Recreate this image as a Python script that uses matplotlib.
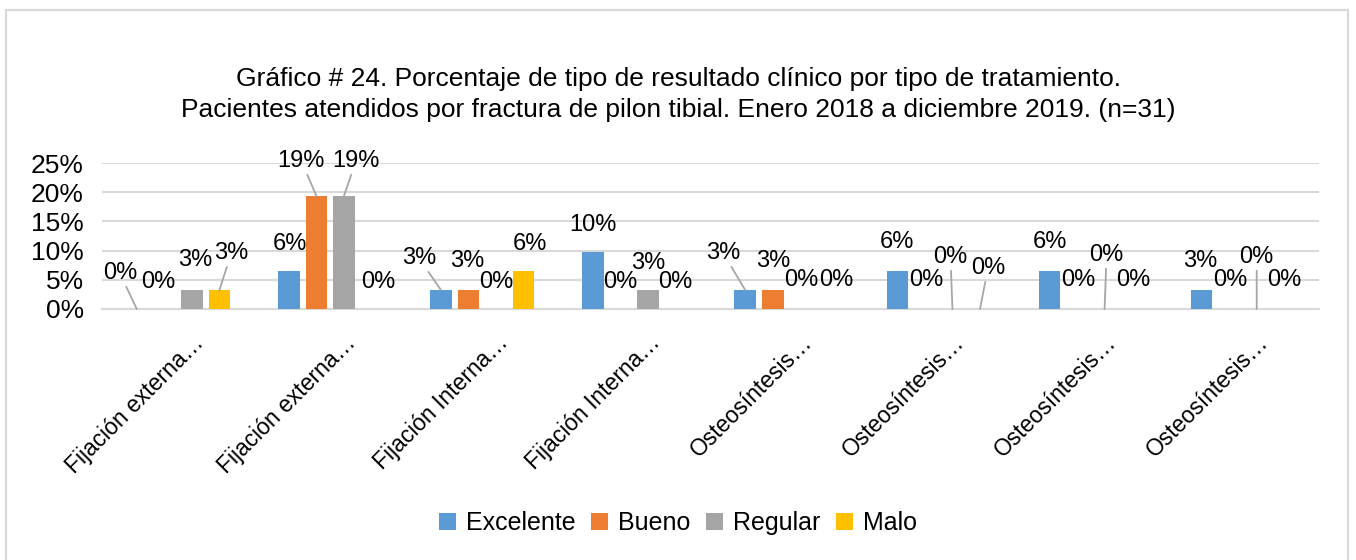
import matplotlib.pyplot as plt
import matplotlib.patches as patches
import matplotlib.transforms as mtransforms
import numpy as np

plt.rcParams['font.family'] = ['Liberation Sans', 'DejaVu Sans']

# Datos del grafico (porcentaje sobre n=31)
categorias = ["Fijación externa…", "Fijación externa…", "Fijación Interna…", "Fijación Interna…",
              "Osteosíntesis…", "Osteosíntesis…", "Osteosíntesis…", "Osteosíntesis…"]
excelente = [0.0, 6.45, 3.23, 9.68, 3.23, 6.45, 6.45, 3.23]
bueno = [0.0, 19.35, 3.23, 0.0, 3.23, 0.0, 0.0, 0.0]
regular = [3.23, 19.35, 0.0, 3.23, 0.0, 0.0, 0.0, 0.0]
malo = [3.23, 0.0, 6.45, 0.0, 0.0, 0.0, 0.0, 0.0]

series = [("Excelente", excelente, "#5b9bd5"),
          ("Bueno", bueno, "#ed7d31"),
          ("Regular", regular, "#a5a5a5"),
          ("Malo", malo, "#ffc000")]

# desplazamiento de etiquetas (pixeles) que no usan la posicion por defecto
label_offset = {
    (0, 0): (-17, 36), (0, 1): (-6, 27), (0, 2): (3, 30), (0, 3): (12, 37),
    (1, 0): (1, 27), (1, 1): (-15, 35), (1, 2): (12, 35), (1, 3): (7, 27),
    (2, 0): (-22, 32), (2, 1): (-1, 29), (2, 3): (6, 27),
    (4, 0): (-22, 37), (4, 1): (0, 29), (4, 2): (1, 29), (4, 3): (8, 29),
    (5, 0): (0, 29), (5, 1): (1, 29), (5, 2): (-2, 52), (5, 3): (8, 41),
    (6, 0): (0, 29), (6, 1): (1, 29), (6, 2): (2, 54), (6, 3): (1, 29),
    (7, 0): (-1, 29), (7, 1): (1, 29), (7, 2): (0, 52), (7, 3): (0, 29),
}
leaders = {(0, 0), (0, 3), (1, 1), (1, 2), (2, 0), (4, 0), (5, 2), (5, 3), (6, 2), (7, 2)}

fig = plt.figure(figsize=(13.56, 5.6), dpi=100)
fig.patches.append(patches.Rectangle((6 / 1356, -0.1), 1342 / 1356, 1 - 10 / 560 + 0.1,
                                     transform=fig.transFigure, fill=False,
                                     edgecolor="#d9d9d9", linewidth=1.6))

ax = fig.add_axes([102 / 1356, 1 - 309 / 560, 1217 / 1356, 146 / 560])
x = np.arange(len(categorias))
step = 0.181
width = 0.142

for j, (name, vals, color) in enumerate(series):
    xs = x + (j - 1.5) * step
    ax.bar(xs, vals, width=width, color=color, label=name, zorder=3)
    for i, v in enumerate(vals):
        dx, dy = label_offset.get((i, j), (0, 27))
        arrow = None
        if (i, j) in leaders:
            arrow = dict(arrowstyle="-", color="#a6a6a6", lw=1.3, shrinkA=0, shrinkB=0)
        ax.annotate(f"{v:.0f}%", xy=(xs[i], v), xytext=(dx, dy), textcoords="offset pixels",
                    ha="center", va="center", fontsize=17, color="#000000",
                    arrowprops=arrow, zorder=4, annotation_clip=False)

ax.set_xlim(-0.5, len(categorias) - 0.5)
ax.set_ylim(0, 25)
ax.set_yticks([0, 5, 10, 15, 20, 25])
ax.set_yticklabels([f"{t}%" for t in [0, 5, 10, 15, 20, 25]], fontsize=19)
ax.tick_params(axis="y", length=0, pad=13)
ax.tick_params(axis="x", length=0, labelbottom=False)
ax.grid(axis="y", color="#d9d9d9", linewidth=1.5, zorder=0)
for s in ["top", "right", "left"]:
    ax.spines[s].set_visible(False)
ax.spines["bottom"].set_color("#d9d9d9")
ax.spines["bottom"].set_linewidth(1.5)

trans = mtransforms.offset_copy(ax.get_xaxis_transform(), fig=fig, x=22, y=-30, units="dots")
for i, c in enumerate(categorias):
    ax.text(i, 0, c, transform=trans, rotation=45, rotation_mode="anchor",
            ha="right", va="center", fontsize=16.5)

fig.text(0.5, 1 - 79 / 560, "Gráfico # 24. Porcentaje de tipo de resultado clínico por tipo de tratamiento.",
         ha="center", va="center", fontsize=19)
fig.text(0.5, 1 - 110 / 560, "Pacientes atendidos por fractura de pilon tibial. Enero 2018 a diciembre 2019. (n=31)",
         ha="center", va="center", fontsize=19)

fig.legend(loc="center", bbox_to_anchor=(0.5, 1 - 523 / 560), ncol=4, frameon=False,
           fontsize=18, handlelength=0.7, handleheight=0.7, handletextpad=0.4, columnspacing=0.6)

fig.savefig("out.png", dpi=100)
